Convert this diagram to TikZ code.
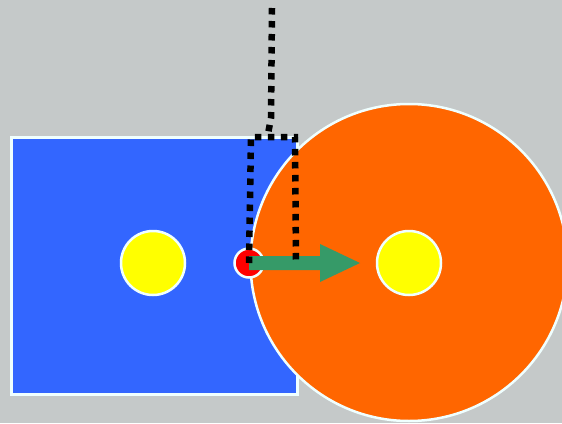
\documentclass[tikz,border=0pt]{standalone}
\usetikzlibrary{arrows.meta}
\definecolor{bg}{RGB}{197,201,201}
\definecolor{bluefill}{RGB}{51,102,255}
\definecolor{orangefill}{RGB}{255,102,0}
\definecolor{greenarrow}{RGB}{54,154,104}
\definecolor{rim}{RGB}{240,255,255}
\definecolor{yel}{RGB}{255,255,0}
\tikzset{
  rimline/.style={draw=rim, line width=2.5pt},
  dotline/.style={line width=6.5pt, dash pattern=on 6.5pt off 6.5pt, line cap=butt, black},
}
\begin{document}
\begin{tikzpicture}[x=1pt,y=-1pt]
\useasboundingbox (0,0) rectangle (562,423);
\clip (0,0) rectangle (562,423);
\fill[bg] (0,0) rectangle (562,423);
% blue rectangle
\node[rimline, fill=bluefill, minimum width=286pt, minimum height=257pt, inner sep=0pt, anchor=north west] (box) at (10,136) {};
% orange circle
\node[rimline, fill=orangefill, circle, minimum size=317pt, inner sep=0pt] (big) at (409,262.5) {};
% yellow circles
\node[rimline, fill=yel, circle, minimum size=64pt, inner sep=0pt] (y1) at (153,263) {};
\node[rimline, fill=yel, circle, minimum size=64pt, inner sep=0pt] (y2) at (409,263) {};
% red circle
\node[rimline, fill=red, circle, minimum size=29pt, inner sep=0pt] (rd) at (249,263) {};
% green arrow
\coordinate (ae) at (360,263);
\fill[greenarrow] (rd.center) ++(0,-7) -- (320,256) -- (320,244) -- (ae) -- (320,282) -- (320,270) -- (249,270) -- cycle;
% dotted connectors
\coordinate (top) at (272,8);
\coordinate (jt) at (268,134);
\coordinate (c1) at (251,137);
\coordinate (c2) at (295,137);
\coordinate (c3) at (296,262);
\draw[dotline] (top) -- (271,118) -- (jt);
\draw[dotline] (rd.center) -- (c1) -- (c2) -- (c3);
\end{tikzpicture}
\end{document}
